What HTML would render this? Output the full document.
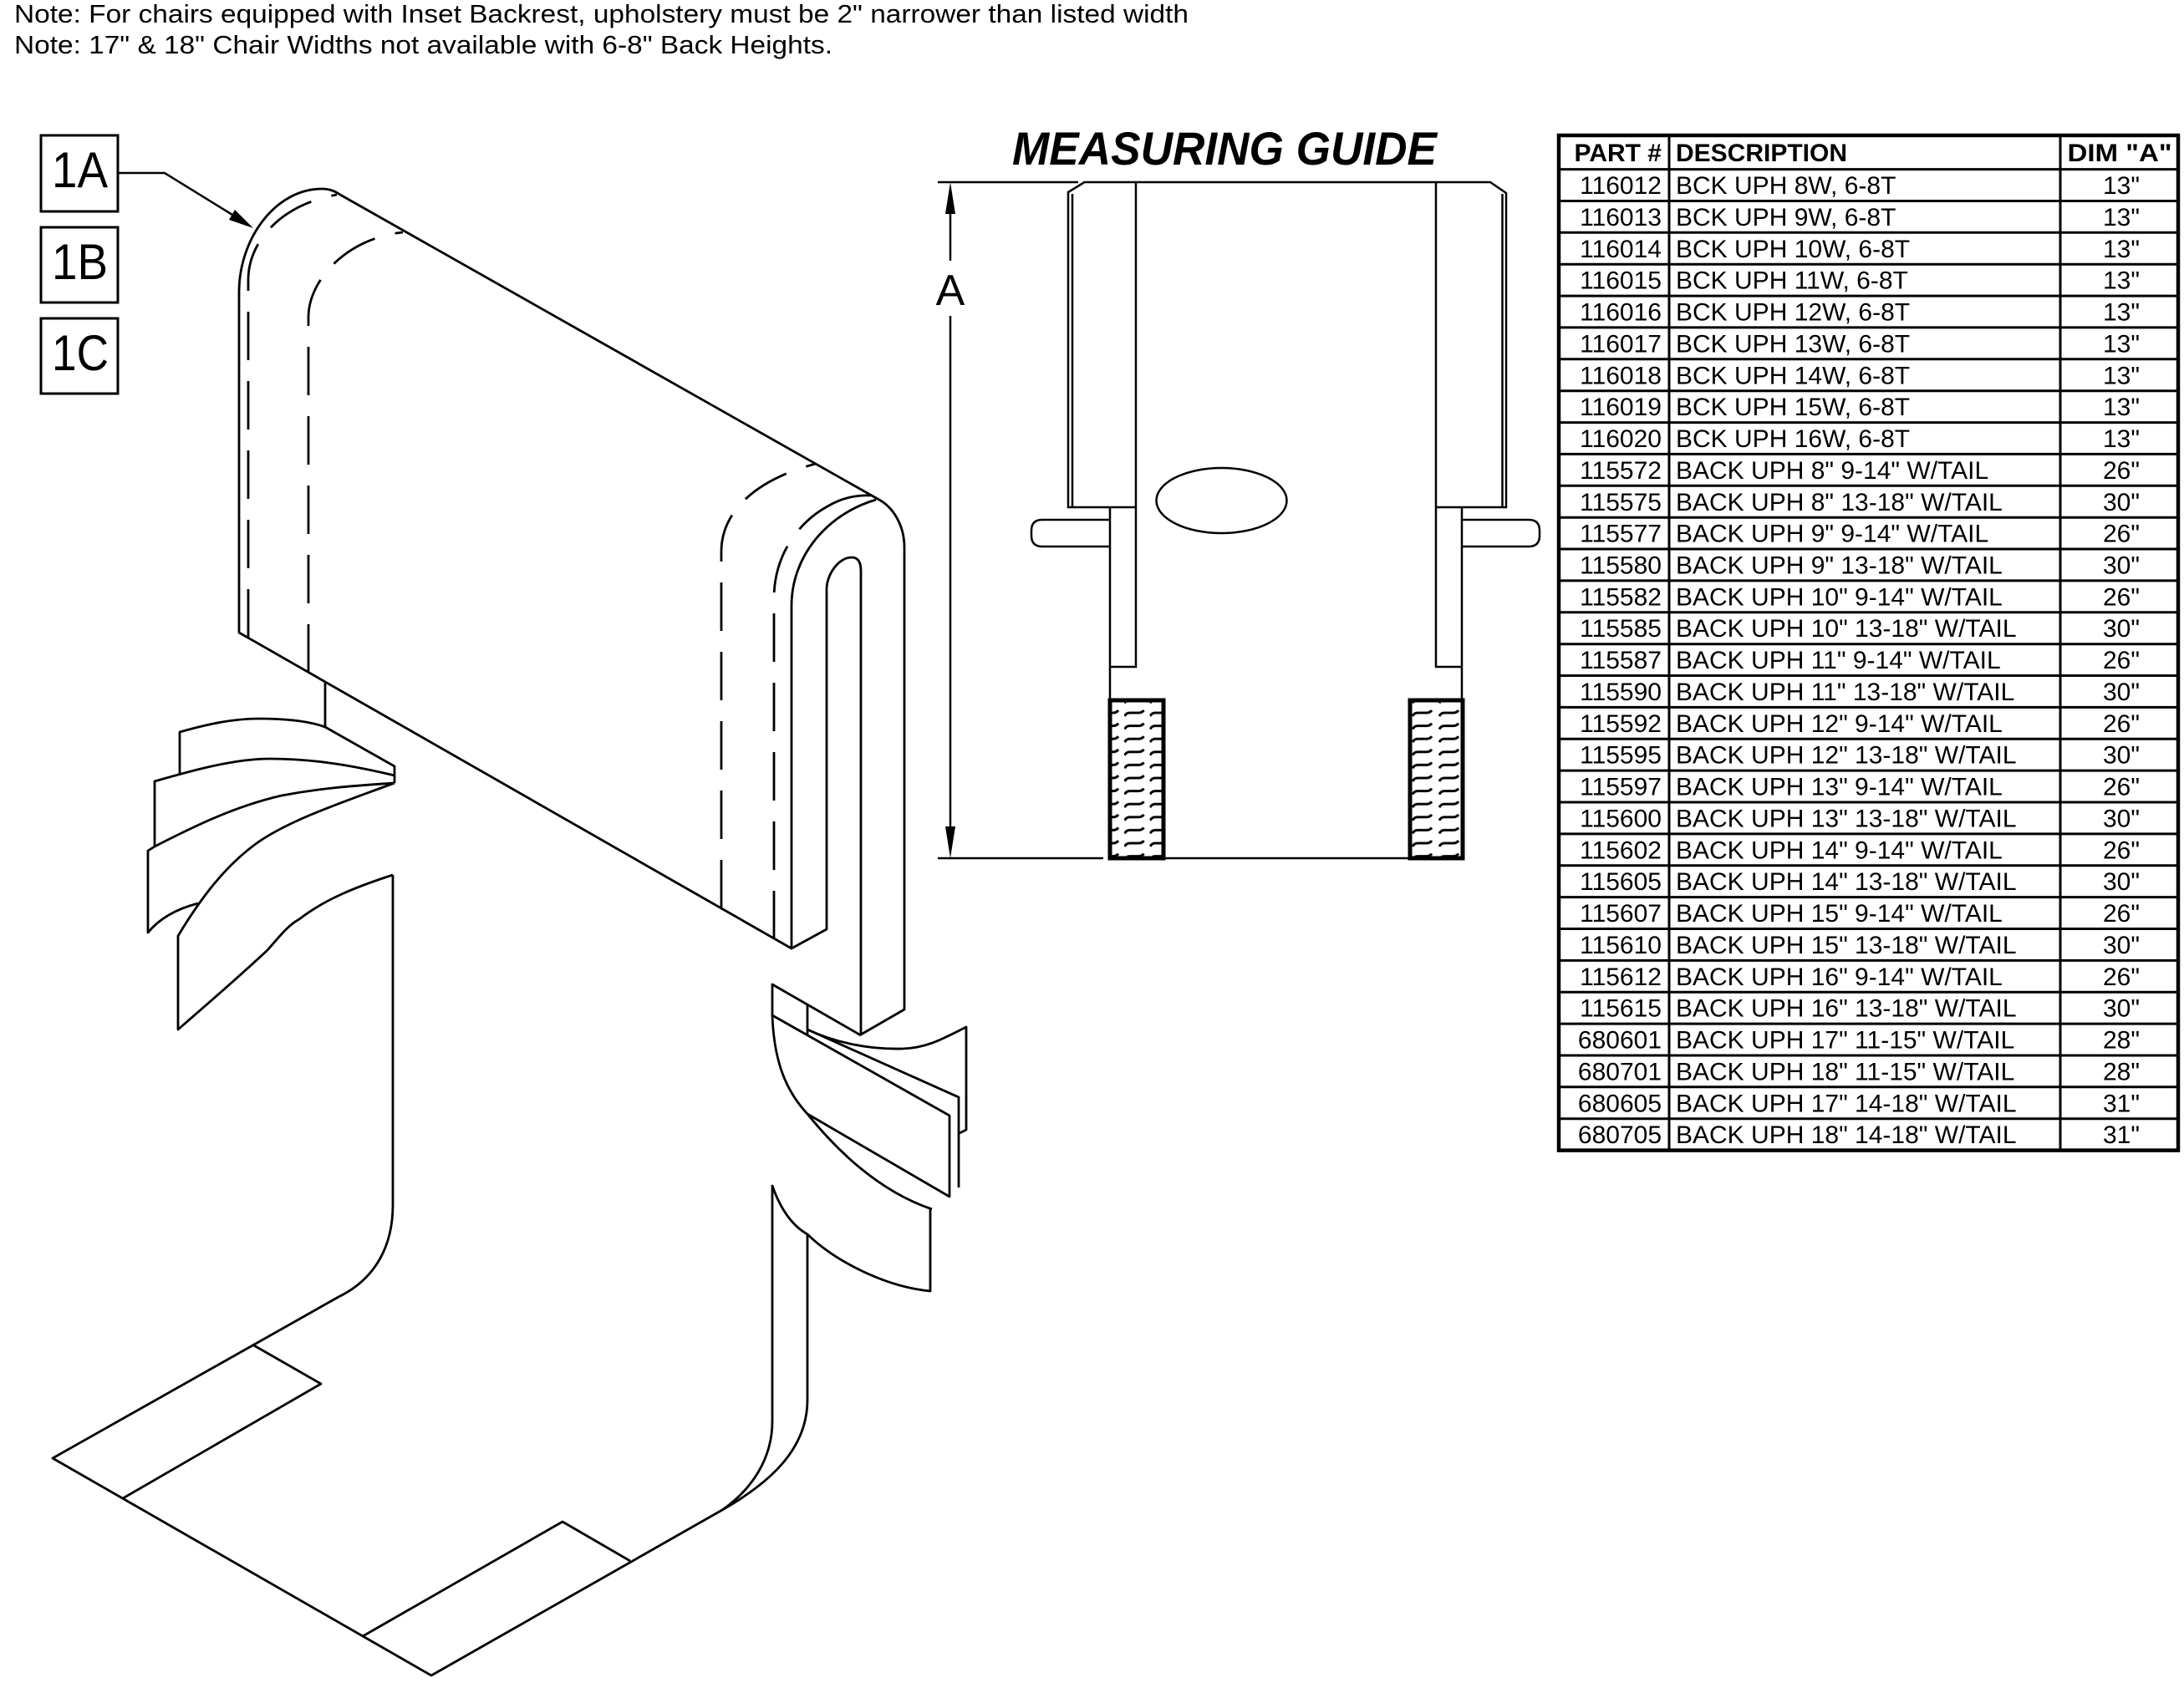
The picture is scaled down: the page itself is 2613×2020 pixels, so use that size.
<!DOCTYPE html>
<html>
<head>
<meta charset="utf-8">
<style>
html,body{margin:0;padding:0;background:#fff;}
svg{display:block;}
text{font-family:"Liberation Sans",Arial,sans-serif;fill:#000;}
</style>
</head>
<body>
<svg width="2613" height="2020" viewBox="0 0 2613 2020" xmlns="http://www.w3.org/2000/svg">
<defs>
<pattern id="hl" patternUnits="userSpaceOnUse" x="1314" y="849" width="30.5" height="15.6">
<path d="M1,8 q2,-4 6,-4 h11 q4,0 6,-3" fill="none" stroke="#000" stroke-width="3"/>
</pattern>
<pattern id="hr" patternUnits="userSpaceOnUse" x="1689" y="849" width="32" height="15.6">
<path d="M1,8 q2,-4 6,-4 h11 q4,0 6,-3" fill="none" stroke="#000" stroke-width="3"/>
</pattern>
</defs>
<rect width="2613" height="2020" fill="#fff"/>

<!-- Notes -->
<text x="17" y="27" font-size="31" textLength="1405" lengthAdjust="spacingAndGlyphs">Note: For chairs equipped with Inset Backrest, upholstery must be 2" narrower than listed width</text>
<text x="17" y="64" font-size="31" textLength="979" lengthAdjust="spacingAndGlyphs">Note: 17" &amp; 18" Chair Widths not available with 6-8" Back Heights.</text>

<!-- Labels -->
<g fill="none" stroke="#000" stroke-width="3">
<rect x="49" y="162" width="92" height="91"/>
<rect x="49" y="272" width="92" height="90"/>
<rect x="49" y="381" width="92" height="90"/>
</g>
<text x="62" y="224" font-size="60" textLength="67" lengthAdjust="spacingAndGlyphs">1A</text>
<text x="62" y="334" font-size="60" textLength="67" lengthAdjust="spacingAndGlyphs">1B</text>
<text x="62" y="443" font-size="60" textLength="68" lengthAdjust="spacingAndGlyphs">1C</text>
<path d="M141,207 L197,207 L278,257" fill="none" stroke="#000" stroke-width="2.5"/>
<polygon points="303,273 274,263 281,251" fill="#000"/>

<!-- Isometric drawing -->
<g fill="none" stroke="#000" stroke-width="2.8" stroke-linejoin="round">
<path d="M286,757 L286,350 C286,285 330,226 385,226 C395,226 401,229 407,233 L1050,597 C1068,606 1082,628 1082,655 L1082,1208 L1030,1238 L1030,683 C1030,672 1026,667 1019,667 C1003,667 989,688 989,705 L989,1112 L947,1135 Z"/>
<path d="M947,1135 L947,725 C947,665 990,615 1048,598"/>
<path d="M990,606 C1005,597 1022,592 1042,593"/>
<path d="M389,816 L389,870"/>
<g stroke-dasharray="58 25">
<path d="M297,763 L297,335 C297,290 335,245 403,233"/>
<path d="M369,805 L369,380 C369,335 415,285 482,278"/>
<path d="M863,1087 L863,660 C863,615 900,575 976,555"/>
<path d="M926,1124 L926,716 C926,670 950,628 990,606"/>
</g>
<!-- left tails -->
<path d="M215,927 L215,876 C250,866 280,860 310,860 C345,860 370,863 389,870 L472,917 L472,937"/>
<path d="M185,1013 L185,935 C230,922 280,908 323,908 C380,908 430,918 472,928"/>
<path d="M185,1013 C230,990 280,965 337,952 C390,942 430,940 472,937"/>
<path d="M185,1013 L177,1018 L177,1116 C190,1100 210,1088 237,1081"/>
<path d="M472,937 C410,960 350,980 310,1007 C270,1035 240,1075 213,1120 L213,1232 C250,1200 290,1165 320,1137 C335,1120 345,1107 358,1100 C390,1075 430,1060 470,1047"/>
<!-- sling / seat -->
<path d="M470,1047 L470,1442 C470,1490 450,1530 405,1552 L63,1745 L516,2005 L864,1807"/>
<path d="M302,1609 L384,1656 L147,1793"/>
<path d="M434,1958 L673,1821 L754,1868"/>
<path d="M864,1807 C900,1782 924,1745 924,1701 L924,1419 C935,1450 950,1468 966,1477 C1000,1510 1060,1540 1113,1545 L1113,1447"/>
<path d="M864,1807 C920,1775 966,1735 966,1675 L966,1477"/>
<!-- right tails -->
<path d="M924,1215 L924,1178 L1030,1239"/>
<path d="M966,1203 L966,1238"/>
<path d="M924,1215 L1136,1335 L1136,1432 L966,1333"/>
<path d="M924,1215 C926,1270 940,1305 966,1333 C1000,1375 1050,1425 1115,1447"/>
<path d="M966,1232 L1147,1313 L1147,1421"/>
<path d="M966,1232 C1000,1248 1040,1256 1080,1255 C1110,1254 1130,1242 1156,1229 L1156,1352 L1148,1356"/>
</g>

<!-- Measuring guide -->
<text x="1211" y="197" font-size="56" font-weight="bold" font-style="italic" textLength="508" lengthAdjust="spacingAndGlyphs">MEASURING GUIDE</text>
<g fill="none" stroke="#000" stroke-width="2.5">
<path d="M1122,218 L1290,218"/>
<path d="M1122,1027 L1320,1027"/>
<path d="M1137,240 L1137,312"/>
<path d="M1137,378 L1137,1005"/>
<path d="M1359,607 L1278,607 L1278,230 L1297.5,218 L1783,218 L1802,231 L1802,607 L1718,607"/>
<path d="M1283,232 L1283,607"/>
<path d="M1797.5,232 L1797.5,607"/>
<path d="M1359,218 L1359,798 L1328,798"/>
<path d="M1718,218 L1718,798 L1749,798"/>
<path d="M1328,607 L1328,838"/>
<path d="M1749,607 L1749,838"/>
<path d="M1328,622 L1247,622 Q1234,622 1234,635 L1234,641 Q1234,654 1247,654 L1328,654"/>
<path d="M1749,622 L1829,622 Q1842,622 1842,635 L1842,641 Q1842,654 1829,654 L1749,654"/>
<ellipse cx="1461.5" cy="599" rx="78" ry="39"/>
<path d="M1392,1027 L1687,1027"/>
</g>
<polygon points="1137,218 1131,256 1143,256" fill="#000"/>
<polygon points="1137,1027 1131,989 1143,989" fill="#000"/>
<text x="1137" y="365" font-size="52" text-anchor="middle">A</text>
<rect x="1328" y="838" width="64" height="189" fill="url(#hl)" stroke="#000" stroke-width="5"/>
<rect x="1687" y="838" width="63" height="189" fill="url(#hr)" stroke="#000" stroke-width="5"/>

<!-- Table -->
<g fill="none" stroke="#000">
<rect x="1865" y="162" width="741" height="1214.6" stroke-width="4.5"/>
<path stroke-width="3" d="M1997,162 L1997,1376.6 M2465,162 L2465,1376.6"/>
<path stroke-width="3" d="M1865,202.6 H2606 M1865,240.5 H2606 M1865,278.3 H2606 M1865,316.2 H2606 M1865,354.1 H2606 M1865,391.9 H2606 M1865,429.8 H2606 M1865,467.7 H2606 M1865,505.6 H2606 M1865,543.4 H2606 M1865,581.3 H2606 M1865,619.2 H2606 M1865,657.0 H2606 M1865,694.9 H2606 M1865,732.8 H2606 M1865,770.7 H2606 M1865,808.5 H2606 M1865,846.4 H2606 M1865,884.3 H2606 M1865,922.1 H2606 M1865,960.0 H2606 M1865,997.9 H2606 M1865,1035.7 H2606 M1865,1073.6 H2606 M1865,1111.5 H2606 M1865,1149.4 H2606 M1865,1187.2 H2606 M1865,1225.1 H2606 M1865,1263.0 H2606 M1865,1300.8 H2606 M1865,1338.7 H2606"/>
</g>
<g font-size="30" font-weight="bold">
<text x="1988" y="193" text-anchor="end">PART #</text>
<text x="2005" y="193">DESCRIPTION</text>
<text x="2536" y="193" text-anchor="middle" textLength="125" lengthAdjust="spacingAndGlyphs">DIM "A"</text>
</g>
<g font-size="30">
<g text-anchor="end">
<text x="1988" y="232">116012</text>
<text x="1988" y="269.9">116013</text>
<text x="1988" y="307.8">116014</text>
<text x="1988" y="345.7">116015</text>
<text x="1988" y="383.5">116016</text>
<text x="1988" y="421.4">116017</text>
<text x="1988" y="459.3">116018</text>
<text x="1988" y="497.2">116019</text>
<text x="1988" y="535.0">116020</text>
<text x="1988" y="572.9">115572</text>
<text x="1988" y="610.8">115575</text>
<text x="1988" y="648.6">115577</text>
<text x="1988" y="686.5">115580</text>
<text x="1988" y="724.4">115582</text>
<text x="1988" y="762.2">115585</text>
<text x="1988" y="800.1">115587</text>
<text x="1988" y="838.0">115590</text>
<text x="1988" y="875.8">115592</text>
<text x="1988" y="913.7">115595</text>
<text x="1988" y="951.6">115597</text>
<text x="1988" y="989.5">115600</text>
<text x="1988" y="1027.3">115602</text>
<text x="1988" y="1065.2">115605</text>
<text x="1988" y="1103.0">115607</text>
<text x="1988" y="1140.9">115610</text>
<text x="1988" y="1178.8">115612</text>
<text x="1988" y="1216.7">115615</text>
<text x="1988" y="1254.5">680601</text>
<text x="1988" y="1292.4">680701</text>
<text x="1988" y="1330.3">680605</text>
<text x="1988" y="1368.1">680705</text>
</g>
<g>
<text x="2005" y="232">BCK UPH 8W, 6-8T</text>
<text x="2005" y="269.9">BCK UPH 9W, 6-8T</text>
<text x="2005" y="307.8">BCK UPH 10W, 6-8T</text>
<text x="2005" y="345.7">BCK UPH 11W, 6-8T</text>
<text x="2005" y="383.5">BCK UPH 12W, 6-8T</text>
<text x="2005" y="421.4">BCK UPH 13W, 6-8T</text>
<text x="2005" y="459.3">BCK UPH 14W, 6-8T</text>
<text x="2005" y="497.2">BCK UPH 15W, 6-8T</text>
<text x="2005" y="535.0">BCK UPH 16W, 6-8T</text>
<text x="2005" y="572.9">BACK UPH 8" 9-14" W/TAIL</text>
<text x="2005" y="610.8">BACK UPH 8" 13-18" W/TAIL</text>
<text x="2005" y="648.6">BACK UPH 9" 9-14" W/TAIL</text>
<text x="2005" y="686.5">BACK UPH 9" 13-18" W/TAIL</text>
<text x="2005" y="724.4">BACK UPH 10" 9-14" W/TAIL</text>
<text x="2005" y="762.2">BACK UPH 10" 13-18" W/TAIL</text>
<text x="2005" y="800.1">BACK UPH 11" 9-14" W/TAIL</text>
<text x="2005" y="838.0">BACK UPH 11" 13-18" W/TAIL</text>
<text x="2005" y="875.8">BACK UPH 12" 9-14" W/TAIL</text>
<text x="2005" y="913.7">BACK UPH 12" 13-18" W/TAIL</text>
<text x="2005" y="951.6">BACK UPH 13" 9-14" W/TAIL</text>
<text x="2005" y="989.5">BACK UPH 13" 13-18" W/TAIL</text>
<text x="2005" y="1027.3">BACK UPH 14" 9-14" W/TAIL</text>
<text x="2005" y="1065.2">BACK UPH 14" 13-18" W/TAIL</text>
<text x="2005" y="1103.0">BACK UPH 15" 9-14" W/TAIL</text>
<text x="2005" y="1140.9">BACK UPH 15" 13-18" W/TAIL</text>
<text x="2005" y="1178.8">BACK UPH 16" 9-14" W/TAIL</text>
<text x="2005" y="1216.7">BACK UPH 16" 13-18" W/TAIL</text>
<text x="2005" y="1254.5">BACK UPH 17" 11-15" W/TAIL</text>
<text x="2005" y="1292.4">BACK UPH 18" 11-15" W/TAIL</text>
<text x="2005" y="1330.3">BACK UPH 17" 14-18" W/TAIL</text>
<text x="2005" y="1368.1">BACK UPH 18" 14-18" W/TAIL</text>
</g>
<g text-anchor="middle">
<text x="2538" y="232">13"</text>
<text x="2538" y="269.9">13"</text>
<text x="2538" y="307.8">13"</text>
<text x="2538" y="345.7">13"</text>
<text x="2538" y="383.5">13"</text>
<text x="2538" y="421.4">13"</text>
<text x="2538" y="459.3">13"</text>
<text x="2538" y="497.2">13"</text>
<text x="2538" y="535.0">13"</text>
<text x="2538" y="572.9">26"</text>
<text x="2538" y="610.8">30"</text>
<text x="2538" y="648.6">26"</text>
<text x="2538" y="686.5">30"</text>
<text x="2538" y="724.4">26"</text>
<text x="2538" y="762.2">30"</text>
<text x="2538" y="800.1">26"</text>
<text x="2538" y="838.0">30"</text>
<text x="2538" y="875.8">26"</text>
<text x="2538" y="913.7">30"</text>
<text x="2538" y="951.6">26"</text>
<text x="2538" y="989.5">30"</text>
<text x="2538" y="1027.3">26"</text>
<text x="2538" y="1065.2">30"</text>
<text x="2538" y="1103.0">26"</text>
<text x="2538" y="1140.9">30"</text>
<text x="2538" y="1178.8">26"</text>
<text x="2538" y="1216.7">30"</text>
<text x="2538" y="1254.5">28"</text>
<text x="2538" y="1292.4">28"</text>
<text x="2538" y="1330.3">31"</text>
<text x="2538" y="1368.1">31"</text>
</g>
</g>
</svg>
</body>
</html>
